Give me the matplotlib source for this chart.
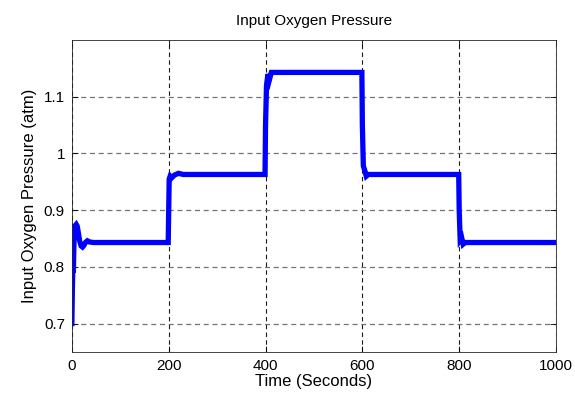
import matplotlib
matplotlib.use('Agg')
import matplotlib.pyplot as plt

plt.rcParams['font.family'] = ['Liberation Sans', 'DejaVu Sans']

# time (s) and input oxygen pressure (atm)
t = [0, 1, 2, 3, 4, 5, 7, 9, 11, 13, 16, 19, 22, 25, 28, 32, 36, 45,
     199, 200, 201, 203, 206, 212, 220, 230,
     399, 400, 402, 405, 408, 412, 418,
     599, 600, 602, 605, 608, 612, 620,
     799, 800, 802, 805, 808, 812, 820,
     1000]
p = [0.700, 0.760, 0.800, 0.790, 0.830, 0.860, 0.873, 0.875, 0.872, 0.862, 0.846, 0.837, 0.835, 0.838, 0.843, 0.846, 0.844, 0.843,
     0.843, 0.900, 0.955, 0.960, 0.957, 0.962, 0.965, 0.963,
     0.963, 1.050, 1.120, 1.140, 1.130, 1.143, 1.143,
     1.143, 1.050, 0.978, 0.970, 0.960, 0.963, 0.963,
     0.963, 0.900, 0.848, 0.852, 0.840, 0.843, 0.843,
     0.843]

xticks = [0, 200, 400, 600, 800, 1000]
yticks = [0.7, 0.8, 0.9, 1, 1.1]
ytick_labels = ['0.7', '0.8', '0.9', '1', '1.1']

fig = plt.figure(figsize=(5.75, 4.05), dpi=100)
ax = fig.add_axes([0.125, 0.131, 0.842, 0.770])

ax.plot(t, p, color=(0, 0, 1), linewidth=3.8, solid_joinstyle='miter')

ax.set_xlim(0, 1000)
ax.set_ylim(0.65, 1.2)
ax.set_xticks(xticks)
ax.set_yticks(yticks)
ax.set_yticklabels(ytick_labels)

ax.xaxis.grid(True, color='0.1', linestyle=(0, (4, 3)), linewidth=0.8)
ax.yaxis.grid(True, color='0.45', linestyle=(0, (4, 3)), linewidth=0.9)
ax.set_axisbelow(True)

ax.tick_params(direction='in', top=True, right=True, labelsize=11, length=4, width=0.6, pad=5)
for s in ax.spines.values():
    s.set_linewidth(0.6)
    s.set_color('0.15')

ax.set_title('Input Oxygen Pressure', fontsize=11, pad=11)
ax.set_xlabel('Time (Seconds)', fontsize=12, labelpad=1)
ax.set_ylabel('Input Oxygen Pressure (atm)', fontsize=12, labelpad=5)

fig.savefig('out.png', dpi=100)
